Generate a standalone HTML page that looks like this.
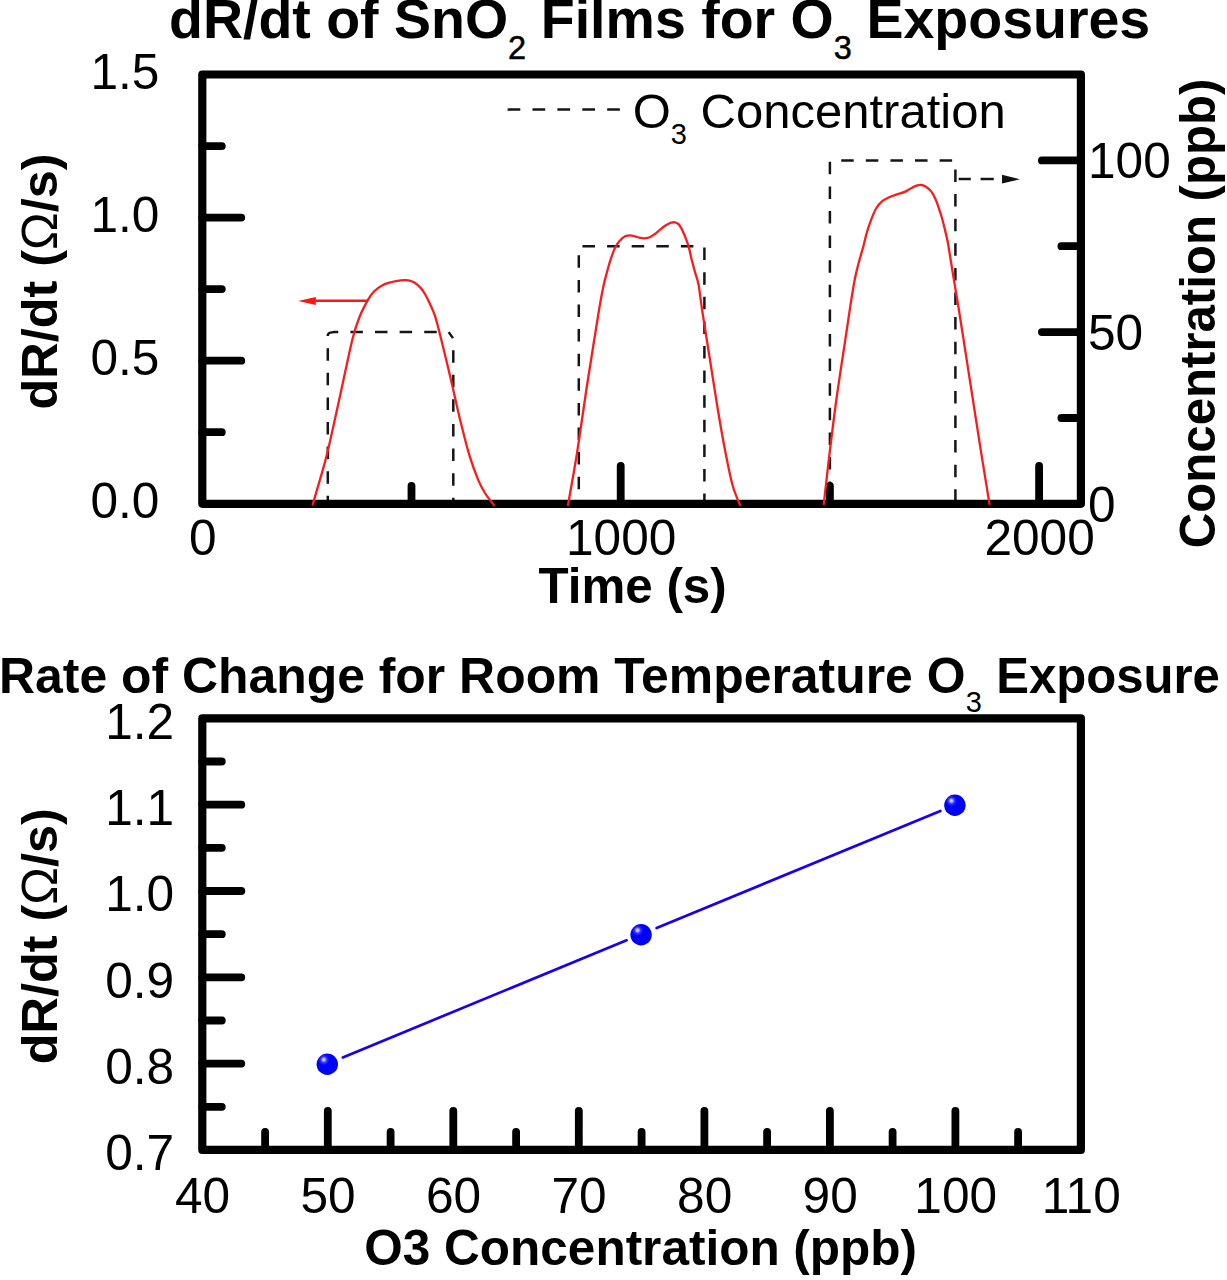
<!DOCTYPE html>
<html><head><meta charset="utf-8"><title>chart</title>
<style>html,body{margin:0;padding:0;background:#fff;}body{width:1227px;height:1280px;overflow:hidden;}svg{display:block;}text{font-family:"Liberation Sans",sans-serif;fill:#000;}</style>
</head><body>
<svg width="1227" height="1280" viewBox="0 0 1227 1280">
<defs><radialGradient id="ball" cx="0.36" cy="0.32" r="0.62" fx="0.33" fy="0.28"><stop offset="0" stop-color="#e6e6ff"/><stop offset="0.1" stop-color="#b0b0ff"/><stop offset="0.24" stop-color="#3030ff"/><stop offset="0.42" stop-color="#0000ff"/><stop offset="1" stop-color="#0000f4"/></radialGradient></defs>
<rect x="0" y="0" width="1227" height="1280" fill="#ffffff"/>
<!-- top chart -->
<path d="M327.8 503.8 L327.8 335.3 Q327.8 332.4 334.8 332.1 L448.7 332.1" stroke="#151515" stroke-width="2.5" fill="none" stroke-dasharray="12.5 12.1" stroke-dashoffset="4.5"/>
<path d="M448.7 332.1 L453.3 338.6 L453.3 503.8" stroke="#151515" stroke-width="2.5" fill="none" stroke-dasharray="12.5 12.1" stroke-dashoffset="5.1"/>
<path d="M578.8 503.8 L578.8 247.1 Q578.8 246.6 580.6 246.2 L703.9 246.2 L704.4 246.8 L704.4 503.8" stroke="#151515" stroke-width="2.5" fill="none" stroke-dasharray="12.5 12.1" stroke-dashoffset="10"/>
<path d="M829.9 503.8 L829.9 161.2 Q829.9 160.7 831.6 160.4 L954.9 160.4 L955.4 160.9 L955.4 503.8" stroke="#151515" stroke-width="2.5" fill="none" stroke-dasharray="12.5 12.1" stroke-dashoffset="14.9"/>
<path d="M958.6 179 H970.8 M980.6 179 H993.8" stroke="#151515" stroke-width="2.5" fill="none"/>
<path d="M1002 174.8 L1019.8 179.2 L1002 183.6 Z" fill="#111"/>
<path d="M507.6 109.6 L620 109.6" stroke="#151515" stroke-width="2.5" fill="none" stroke-dasharray="12.7 12.2"/>
<rect x="202.3" y="74.5" width="878.6" height="429.3" stroke="#000" stroke-width="8.2" fill="none" stroke-linejoin="round"/>
<path d="M202.3 146.1 h19.5 M202.3 217.6 h39.0 M202.3 289.1 h19.5 M202.3 360.7 h39.0 M202.3 432.2 h19.5 M1080.9 160.4 h-39.0 M1080.9 246.2 h-19.5 M1080.9 332.1 h-39.0 M1080.9 418.0 h-19.5 M411.5 503.8 v-18.0 M620.7 503.8 v-38.0 M829.9 503.8 v-18.0 M1039.1 503.8 v-38.0 " stroke="#000" stroke-width="7.8" fill="none" stroke-linecap="round"/>
<path d="M312.7 504.5 C314.8 497.2 322.0 473.4 325.3 460.9 C328.6 448.4 329.7 442.7 332.7 429.3 C335.7 415.9 340.0 395.9 343.3 380.7 C346.6 365.5 350.0 348.9 352.7 338.2 C355.4 327.5 357.0 323.2 359.6 316.7 C362.2 310.2 366.0 303.3 368.4 299.1 C370.8 294.9 371.9 293.6 374.2 291.3 C376.5 289.0 379.2 286.9 382.1 285.4 C385.0 283.8 388.7 282.9 391.8 282.0 C394.9 281.1 397.8 280.6 400.6 280.3 C403.4 280.0 406.2 279.9 408.5 280.3 C410.8 280.7 412.4 281.3 414.3 282.5 C416.2 283.7 418.4 285.4 420.2 287.4 C422.0 289.3 423.5 291.4 425.1 294.2 C426.7 297.0 428.4 300.4 430.0 304.0 C431.6 307.6 433.1 310.1 434.9 315.7 C436.7 321.2 438.4 328.2 440.7 337.3 C443.0 346.4 446.3 360.1 448.7 370.2 C451.1 380.2 452.9 388.5 455.0 397.6 C457.1 406.7 458.9 415.1 461.4 425.0 C463.9 434.9 467.0 447.6 469.8 456.7 C472.6 465.8 475.7 473.9 478.2 479.9 C480.7 485.9 482.0 488.3 484.6 492.5 C487.2 496.7 492.4 503.1 494.0 505.2" stroke="#f81c1c" stroke-width="2.3" fill="none" stroke-linejoin="round" stroke-linecap="round"/>
<path d="M568.0 505.0 C569.6 495.8 574.5 469.2 577.5 450.0 C580.5 430.8 583.6 407.9 586.3 390.0 C589.0 372.1 591.6 356.3 593.8 342.5 C596.0 328.7 597.9 316.6 599.5 307.0 C601.1 297.4 602.5 290.6 603.7 285.0 C604.9 279.4 605.5 277.7 606.6 273.5 C607.7 269.3 609.0 264.2 610.5 259.8 C612.0 255.4 613.8 250.4 615.4 247.1 C617.0 243.8 618.7 242.0 620.3 240.2 C621.9 238.4 623.6 237.1 625.2 236.3 C626.8 235.5 628.5 235.3 630.1 235.3 C631.7 235.3 633.4 235.9 635.0 236.3 C636.6 236.7 638.4 237.5 639.9 237.8 C641.4 238.1 642.7 238.4 644.3 238.3 C645.9 238.2 648.0 238.0 649.7 237.3 C651.4 236.6 652.7 235.6 654.5 234.3 C656.3 233.0 658.4 231.0 660.4 229.4 C662.4 227.8 664.5 226.1 666.3 225.0 C668.1 223.9 669.7 223.0 671.2 222.6 C672.7 222.2 673.8 222.1 675.1 222.4 C676.4 222.7 677.9 223.4 679.0 224.6 C680.1 225.8 680.8 227.3 681.9 229.4 C683.0 231.5 684.2 234.4 685.4 237.3 C686.5 240.2 687.8 243.3 688.8 247.1 C689.8 250.8 690.7 255.6 691.7 259.8 C692.8 264.0 694.0 268.3 695.1 272.5 C696.2 276.7 697.4 278.3 698.6 285.0 C699.8 291.7 700.6 300.0 702.5 312.5 C704.4 325.0 707.5 344.2 710.0 360.0 C712.5 375.8 715.0 392.5 717.5 407.5 C720.0 422.5 722.5 437.1 725.0 450.0 C727.5 462.9 730.0 475.8 732.5 485.0 C735.0 494.2 738.8 501.7 740.0 505.0" stroke="#f81c1c" stroke-width="2.3" fill="none" stroke-linejoin="round" stroke-linecap="round"/>
<path d="M823.8 504.0 C824.6 496.5 826.8 476.7 828.9 459.0 C831.0 441.3 833.8 418.3 836.6 398.0 C839.4 377.7 842.7 356.9 845.7 337.1 C848.7 317.3 851.8 294.7 854.8 279.3 C857.8 263.9 861.7 253.0 863.7 245.0 C865.8 237.0 865.8 235.9 867.1 231.5 C868.4 227.1 870.0 222.7 871.5 218.8 C873.0 214.9 874.6 210.9 876.4 208.0 C878.2 205.1 880.2 203.0 882.3 201.2 C884.4 199.4 886.7 198.5 889.1 197.3 C891.5 196.2 894.3 195.2 896.9 194.3 C899.5 193.4 902.5 192.9 904.8 191.9 C907.1 190.9 908.6 189.5 910.6 188.5 C912.6 187.5 914.7 186.3 916.5 185.7 C918.3 185.1 919.8 184.8 921.4 185.0 C923.0 185.2 924.7 185.9 926.3 187.0 C927.9 188.1 929.7 189.5 931.2 191.4 C932.7 193.3 933.9 195.7 935.1 198.3 C936.3 200.9 937.4 203.8 938.5 207.1 C939.6 210.3 940.9 214.4 941.9 217.8 C942.9 221.2 943.6 224.3 944.4 227.6 C945.2 230.9 946.1 234.5 946.8 237.4 C947.4 240.3 947.4 239.6 948.3 245.0 C949.2 250.4 950.6 259.8 952.3 270.1 C954.0 280.4 956.1 292.5 958.4 306.7 C960.7 320.9 963.5 339.2 966.0 355.4 C968.5 371.6 971.1 387.9 973.6 404.1 C976.1 420.4 978.6 436.2 981.2 452.9 C983.9 469.5 988.1 495.5 989.5 504.0" stroke="#f81c1c" stroke-width="2.3" fill="none" stroke-linejoin="round" stroke-linecap="round"/>
<path d="M367.6 300.7 L312 300.7" stroke="#fb1515" stroke-width="2.6" fill="none"/>
<path d="M315.8 296.9 L298.2 300.9 L315.8 304.9 Z" fill="#fb1515"/>
<text x="159.4" y="88.8" font-size="49.6" text-anchor="end" >1.5</text>
<text x="159.4" y="231.9" font-size="49.6" text-anchor="end" >1.0</text>
<text x="159.4" y="375.0" font-size="49.6" text-anchor="end" >0.5</text>
<text x="159.4" y="518.1" font-size="49.6" text-anchor="end" >0.0</text>
<text x="202.8" y="555.0" font-size="49.6" text-anchor="middle" >0</text>
<text x="621.2" y="555.0" font-size="49.6" text-anchor="middle" >1000</text>
<text x="1039.6" y="555.0" font-size="49.6" text-anchor="middle" >2000</text>
<text x="1088.0" y="178.2" font-size="49.6" text-anchor="start" >100</text>
<text x="1088.0" y="350.2" font-size="49.6" text-anchor="start" >50</text>
<text x="1088.0" y="521.5" font-size="49.6" text-anchor="start" >0</text>
<text x="632.7" y="127.5" font-size="49">O<tspan font-size="29" dy="16.8">3</tspan><tspan dy="-16.8"> Concentration</tspan></text>
<text x="169.0" y="38.0" font-size="55.5" font-weight="bold">dR/dt of SnO<tspan font-size="32.5" font-weight="normal" stroke="#000" stroke-width="0.5" dy="21">2</tspan><tspan dy="-21" dx="-0.8"> Films for O</tspan><tspan font-size="32.5" font-weight="normal" stroke="#000" stroke-width="0.5" dy="21">3</tspan><tspan dy="-21" dx="-0.8"> Exposures</tspan></text>
<text x="632.6" y="602.6" font-size="49.3" font-weight="bold" text-anchor="middle">Time (s)</text>
<text transform="translate(56.9,281.5) rotate(-90)" font-size="50.4" font-weight="bold" text-anchor="middle">dR/dt (<tspan font-weight="normal">Ω</tspan>/s)</text>
<text transform="translate(1215,313.4) rotate(-90)" font-size="49.15" font-weight="bold" text-anchor="middle">Concentration (ppb)</text>
<!-- bottom chart -->
<path d="M342.8 1057.4 L626.6 940.3" stroke="#1800f0" stroke-width="2.7" fill="none" stroke-linecap="round"/>
<path d="M656.6 928.0 L940.4 810.9" stroke="#1800f0" stroke-width="2.7" fill="none" stroke-linecap="round"/>
<circle cx="327.3" cy="1064.2" r="10.7" fill="url(#ball)"/>
<circle cx="641.1" cy="934.8" r="10.7" fill="url(#ball)"/>
<circle cx="954.9" cy="805.3" r="10.7" fill="url(#ball)"/>
<rect x="202.3" y="718.4" width="878.6" height="431.5" stroke="#000" stroke-width="8.2" fill="none" stroke-linejoin="round"/>
<path d="M202.3 1106.8 h19.5 M202.3 1063.6 h39.0 M202.3 1020.5 h19.5 M202.3 977.3 h39.0 M202.3 934.2 h19.5 M202.3 891.0 h39.0 M202.3 847.8 h19.5 M202.3 804.7 h39.0 M202.3 761.5 h19.5 M265.1 1149.9 v-18.0 M327.8 1149.9 v-39.0 M390.6 1149.9 v-18.0 M453.3 1149.9 v-39.0 M516.1 1149.9 v-18.0 M578.8 1149.9 v-39.0 M641.6 1149.9 v-18.0 M704.4 1149.9 v-39.0 M767.1 1149.9 v-18.0 M829.9 1149.9 v-39.0 M892.6 1149.9 v-18.0 M955.4 1149.9 v-39.0 M1018.1 1149.9 v-18.0 " stroke="#000" stroke-width="7.8" fill="none" stroke-linecap="round"/>
<text x="174.2" y="738.6" font-size="49.6" text-anchor="end" >1.2</text>
<text x="174.2" y="824.9" font-size="49.6" text-anchor="end" >1.1</text>
<text x="174.2" y="911.2" font-size="49.6" text-anchor="end" >1.0</text>
<text x="174.2" y="997.5" font-size="49.6" text-anchor="end" >0.9</text>
<text x="174.2" y="1083.8" font-size="49.6" text-anchor="end" >0.8</text>
<text x="174.2" y="1170.1" font-size="49.6" text-anchor="end" >0.7</text>
<text x="202.6" y="1212.5" font-size="49.6" text-anchor="middle" >40</text>
<text x="328.1" y="1212.5" font-size="49.6" text-anchor="middle" >50</text>
<text x="453.6" y="1212.5" font-size="49.6" text-anchor="middle" >60</text>
<text x="579.1" y="1212.5" font-size="49.6" text-anchor="middle" >70</text>
<text x="704.7" y="1212.5" font-size="49.6" text-anchor="middle" >80</text>
<text x="830.2" y="1212.5" font-size="49.6" text-anchor="middle" >90</text>
<text x="955.7" y="1212.5" font-size="49.6" text-anchor="middle" >100</text>
<text x="1081.2" y="1212.5" font-size="49.6" text-anchor="middle" >110</text>
<text x="640.7" y="1265" font-size="49.5" font-weight="bold" text-anchor="middle">O3 Concentration (ppb)</text>
<text transform="translate(56.5,936.2) rotate(-90)" font-size="50.4" font-weight="bold" text-anchor="middle">dR/dt (<tspan font-weight="normal">Ω</tspan>/s)</text>
<text x="-1.0" y="692.6" font-size="49.9" font-weight="bold">Rate of Change for Room Temperature O</text>
<text x="965.7" y="711.5" font-size="29">3</text>
<text x="996.2" y="692.6" font-size="49.1" font-weight="bold">Exposure</text>
</svg></body></html>
